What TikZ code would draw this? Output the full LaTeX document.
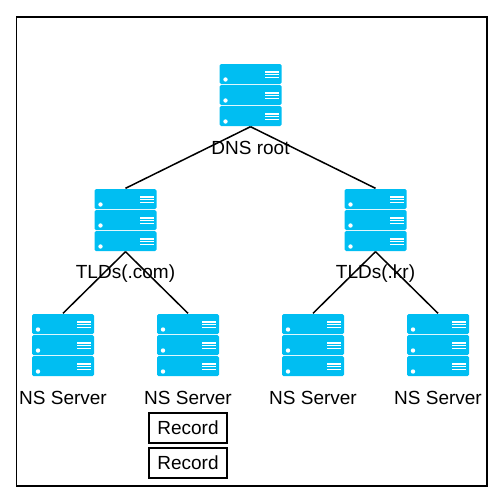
\documentclass[tikz,border=0pt]{standalone}
\usepackage{fontspec}
\setmainfont{Liberation Sans}
\usetikzlibrary{graphs, positioning}
\definecolor{serverblue}{HTML}{00BEF2}
\tikzset{
    server/.style={minimum width=62pt, minimum height=63pt, inner sep=0pt, path picture={
        \foreach \y in {21,0,-21} {
            \fill[serverblue, rounded corners=1.5pt] ([shift={(-31pt,\y pt-10pt)}]path picture bounding box.center) rectangle ++(62pt,20pt);
            \fill[white] ([shift={(-25pt,\y pt-5.5pt)}]path picture bounding box.center) circle (2.2pt);
            \foreach \z in {0,2.7,5.4}
                \fill[white] ([shift={(14pt,\y pt-4pt+\z pt)}]path picture bounding box.center) rectangle ++(14pt,1.5pt);
        }
    }},
    serverlabel/.style={font=\fontsize{19}{20}\selectfont, inner sep=0pt, minimum height=20pt},
    recordbox/.style={draw, line width=1.5pt, font=\fontsize{19}{20}\selectfont, minimum width=78pt, minimum height=30pt, inner sep=0pt},
}

\begin{document}
\begin{tikzpicture}[x=1pt, y=1pt]
            \useasboundingbox (-63,95) rectangle (439,-406);
            \graph [grow down=125pt, branch right=125pt, empty nodes, nodes={server},
                    edges={line width=1.5pt, to path={(\tikztostart.south) -- (\tikztotarget.north)}}] {
                root[xshift=187.5pt]
                -- {
                    com[xshift=62.5pt] -- {ns1, ns2},
                    kr[xshift=62.5pt] -- {ns3, ns4}
                };
            };
            \node[serverlabel, below=11.5pt of root] (rootlabel) {DNS root};
            \node[serverlabel, below=11.5pt of com] (comlabel) {TLDs(.com)};
            \node[serverlabel, below=11.5pt of kr] (krlabel) {TLDs(.kr)};
            \foreach \n in {ns1,ns2,ns3,ns4}
                \node[serverlabel, below=11.5pt of \n] (\n label) {NS Server};
            \node[recordbox, below=3.5pt of ns2label] (record1) {Record};
            \node[recordbox, below=3.5pt of record1] (record2) {Record};
            \node[draw, line width=1.5pt, minimum width=470pt, minimum height=469pt, anchor=north west] (frame) at (-47,79) {};
        \end{tikzpicture}
\end{document}
